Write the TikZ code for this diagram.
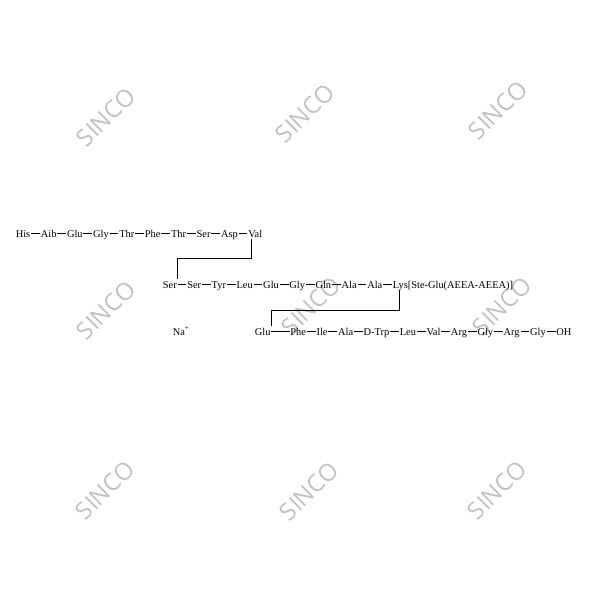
\documentclass[tikz,border=0pt]{standalone}
\usepackage{fontspec}
\setmainfont{Liberation Serif}
\newfontfamily\wmfont{Open Sans}
\usetikzlibrary{positioning}
\tikzset{
  res/.style={inner xsep=0.4pt, inner ysep=0.3pt, text height=6pt, text depth=1pt,
    font=\fontsize{7.4}{8}\selectfont},
  bond/.style={line width=0.6pt},
  logo/.style={font=\wmfont\fontsize{17}{17}\selectfont, text=black!24, rotate=45}
}
\begin{document}
\begin{tikzpicture}[x=0.025cm, y=-0.025cm, node distance=6.3pt]
\useasboundingbox (0,0) rectangle (600,600);

% watermarks
\foreach \p [count=\k] in {(106,117),(305,113),(498,110),(106,310),(311,306),(502,306),(105,490),(309,491),(497,490)}
  \node[logo] (wm\k) at \p {SINCO};

% first row
\node[res, anchor=base west] (a1) at (15,237) {His};
\foreach \r [count=\i from 2, remember=\i as \j (initially 1)] in {Aib,Glu,Gly,Thr,Phe,Thr,Ser,Asp,Val}
  {\node[res, right=of a\j] (a\i) {\r}; \draw[bond] (a\j) -- (a\i);}

% second row
\node[res, anchor=base west] (b1) at (162,288) {Ser};
\foreach \r [count=\i from 2, remember=\i as \j (initially 1)] in {Ser,Tyr,Leu,Glu,Gly,Gln,Ala,Ala,{Lys[Ste-Glu(AEEA-AEEA)]}}
  {\node[res, right=of b\j] (b\i) {\r}; \draw[bond] (b\j) -- (b\i);}

% third row
\node[res, anchor=base west] (c1) at (254,335) {Glu};
\node[res, right=13pt of c1] (c2) {Phe};
\draw[bond] (c1) -- (c2);
\foreach \r [count=\i from 3, remember=\i as \j (initially 2)] in {Ile,Ala,D-Trp,Leu,Val,Arg,Gly,Arg,Gly,OH}
  {\node[res, right=of c\j] (c\i) {\r}; \draw[bond] (c\j) -- (c\i);}

% links between the rows
\coordinate (turnA) at (0,258);
\coordinate (turnB) at (0,310);
\draw[bond] ([xshift=-2.5pt]a10.south) -- ([xshift=-2.5pt]a10.south |- turnA) -| (b1.north east);
\draw[bond] ([xshift=5pt]b10.south west) -- ([xshift=5pt]b10.south west |- turnB) -| (c1.north east);

\node[res, anchor=base west] (na) at (172,335) {Na\textsuperscript{+}};
\end{tikzpicture}
\end{document}
